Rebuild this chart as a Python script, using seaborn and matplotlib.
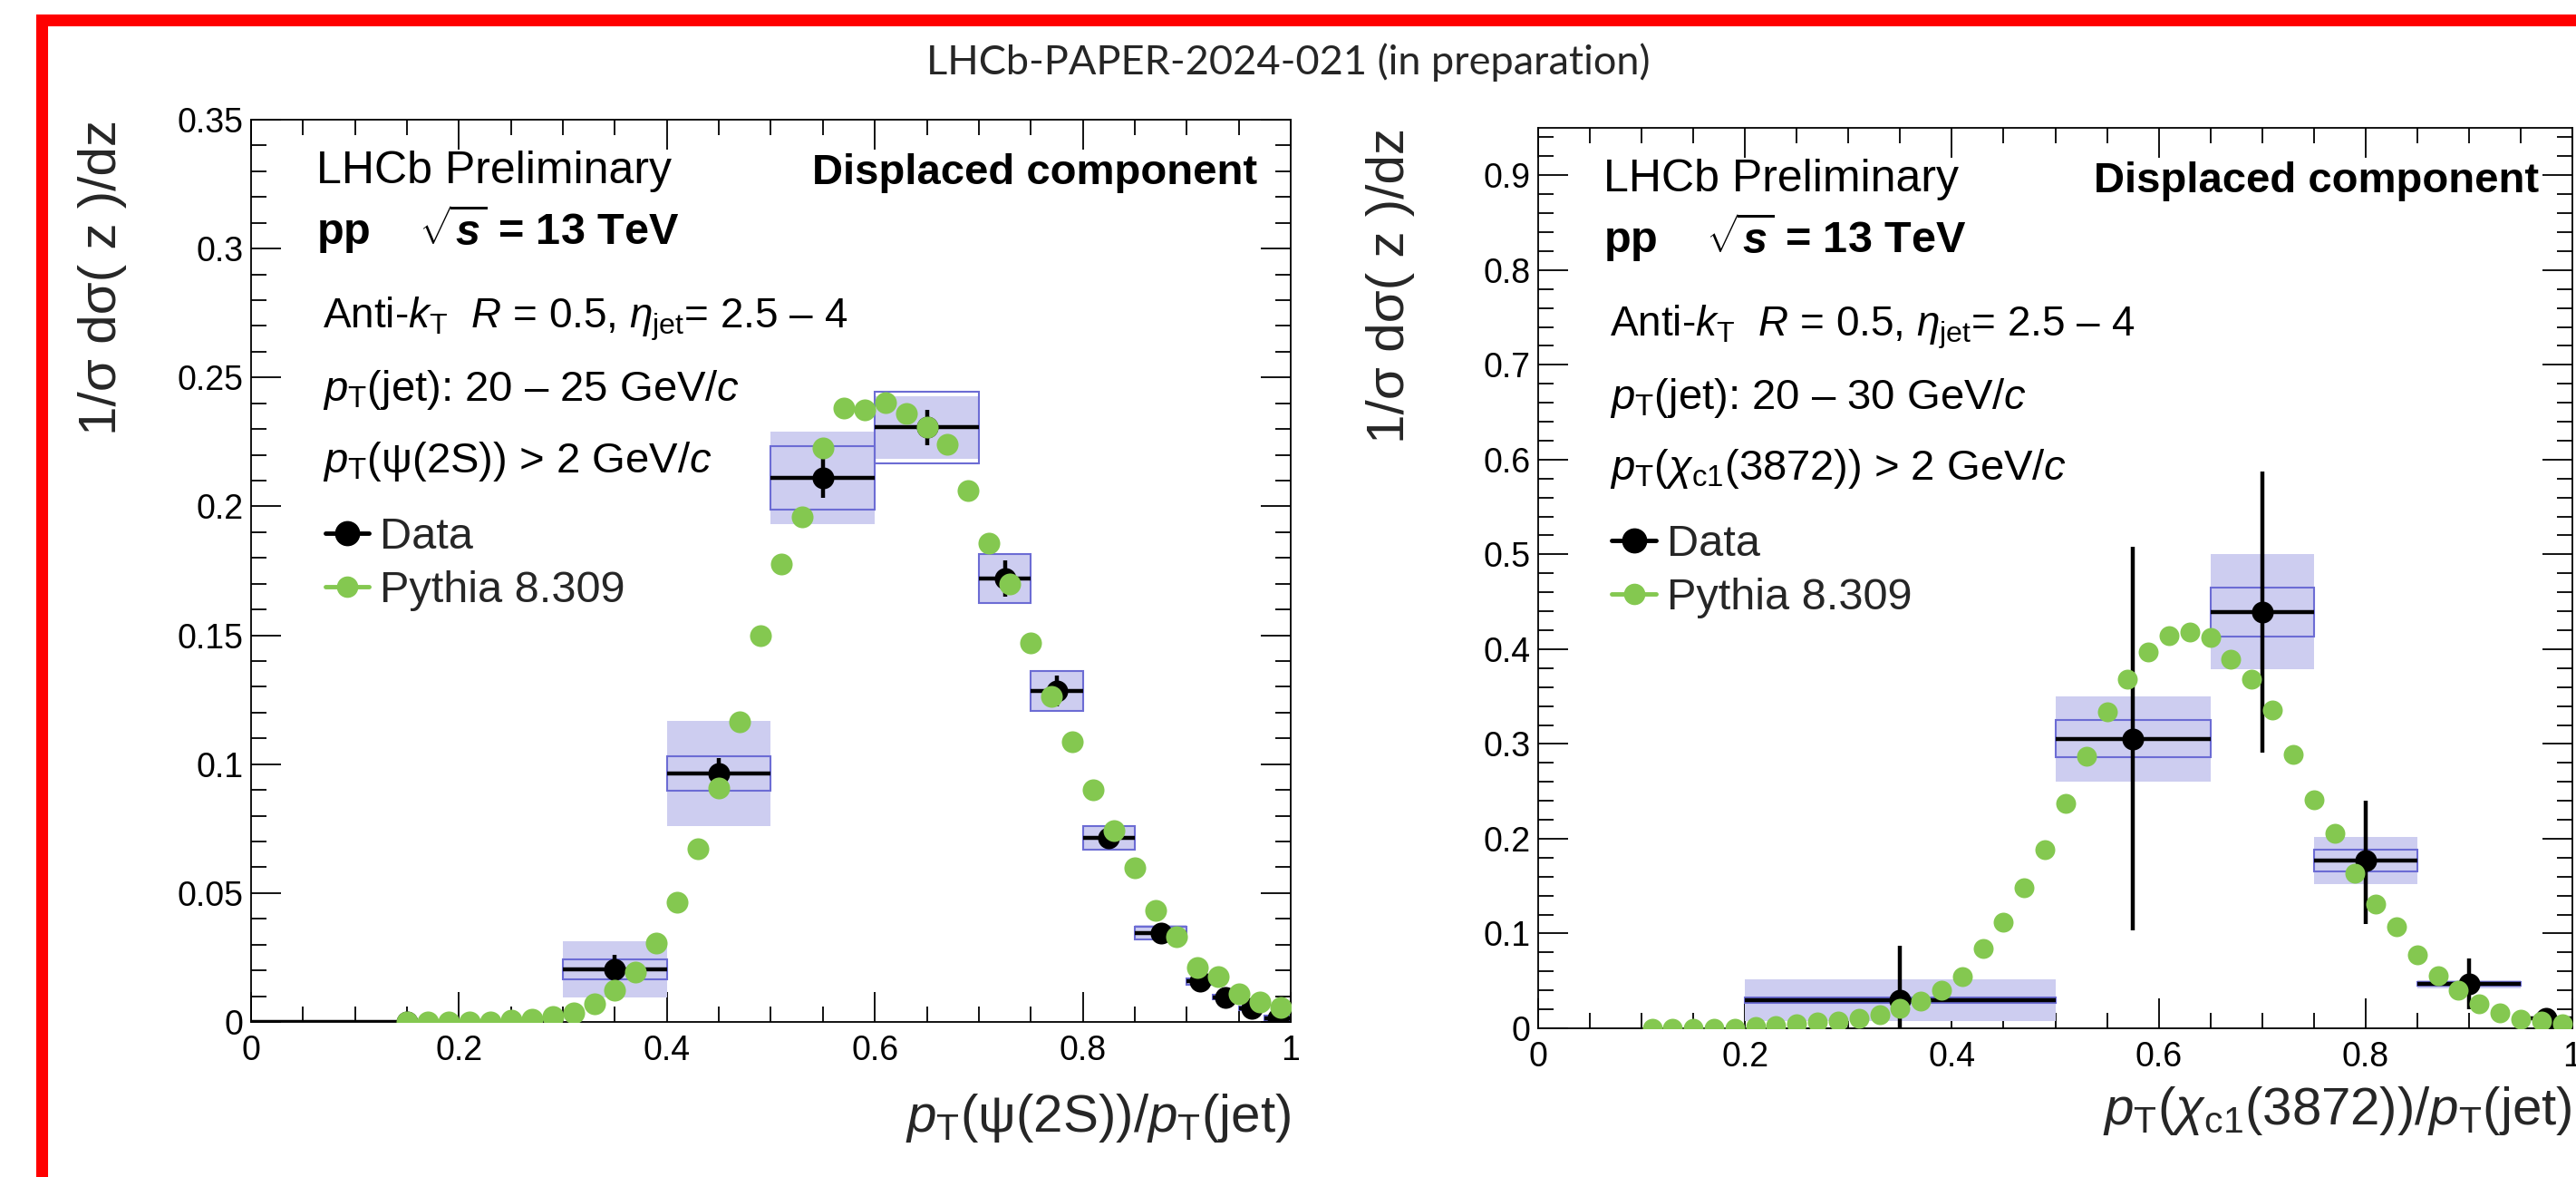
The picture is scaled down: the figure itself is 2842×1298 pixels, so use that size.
import numpy as np
import matplotlib
matplotlib.use('Agg')
import matplotlib.pyplot as plt
import seaborn as sns
from matplotlib.ticker import MultipleLocator, FuncFormatter
from matplotlib.patches import Rectangle
from matplotlib.lines import Line2D

# ---- data: psi(2S) panel (left) ----
psi_lo = [0.0, 0.3, 0.4, 0.5, 0.6, 0.7, 0.75, 0.8, 0.85, 0.9, 0.925, 0.95, 0.975]
psi_hi = [0.3, 0.4, 0.5, 0.6, 0.7, 0.75, 0.8, 0.85, 0.9, 0.925, 0.95, 0.975, 1.0]
psi_val = [0.0, 0.0204, 0.0964, 0.211, 0.2306, 0.172, 0.1284, 0.0714, 0.0345, 0.0157, 0.0096, 0.0052, 0.0015]
psi_stat_dn = [0.0, 0.0055, 0.0058, 0.0078, 0.007, 0.007, 0.006, 0.0025, 0.0015, 0.0015, 0.001, 0.001, 0.001]
psi_stat_up = [0.0, 0.0055, 0.0058, 0.0078, 0.007, 0.007, 0.006, 0.0025, 0.0015, 0.0015, 0.001, 0.001, 0.001]
psi_band = [0.0, 0.011, 0.0204, 0.018, 0.012, 0.0095, 0.0078, 0.0049, 0.003, 0.0015, 0.001, 0.001, 0.001]
psi_inner = [0.0, 0.0037, 0.0068, 0.0122, 0.0138, 0.0095, 0.0078, 0.0045, 0.0025, 0.0012, 0.0008, 0.0008, 0.0008]

psi_mc_x = [0.15, 0.17, 0.19, 0.21, 0.23, 0.25, 0.27, 0.29, 0.31, 0.33, 0.35, 0.37, 0.39, 0.41, 0.43,
            0.45, 0.47, 0.49, 0.51, 0.53, 0.55, 0.57, 0.59, 0.61, 0.63, 0.65, 0.67, 0.69, 0.71, 0.73,
            0.75, 0.77, 0.79, 0.81, 0.83, 0.85, 0.87, 0.89, 0.91, 0.93, 0.95, 0.97, 0.99]
psi_mc_y = [0.0, 0.0, 0.0, 0.0, 0.0, 0.0006, 0.001, 0.002, 0.0035, 0.007, 0.0122, 0.0192, 0.0306, 0.0463, 0.0673,
            0.0909, 0.1165, 0.1497, 0.1776, 0.196, 0.2228, 0.2382, 0.2373, 0.2402, 0.2359, 0.2306, 0.2239, 0.2062, 0.1858, 0.1698,
            0.147, 0.1264, 0.1086, 0.09, 0.0743, 0.0597, 0.0434, 0.0329, 0.021, 0.0175, 0.0108, 0.0079, 0.0058]

# ---- data: chi_c1(3872) panel (right) ----
chi_lo = [0.2, 0.5, 0.65, 0.75, 0.85, 0.95]
chi_hi = [0.5, 0.65, 0.75, 0.85, 0.95, 1.0]
chi_val = [0.030, 0.3056, 0.4394, 0.1766, 0.0467, 0.0108]
chi_stat_dn = [0.030, 0.2026, 0.149, 0.0666, 0.027, 0.004]
chi_stat_up = [0.057, 0.202, 0.148, 0.064, 0.027, 0.004]
chi_band = [0.022, 0.045, 0.0605, 0.0248, 0.0043, 0.002]
chi_inner = [0.003, 0.0195, 0.026, 0.0115, 0.002, 0.001]

chi_mc_x = [0.11, 0.13, 0.15, 0.17, 0.19, 0.21, 0.23, 0.25, 0.27, 0.29, 0.31, 0.33, 0.35, 0.37, 0.39,
            0.41, 0.43, 0.45, 0.47, 0.49, 0.51, 0.53, 0.55, 0.57, 0.59, 0.61, 0.63, 0.65, 0.67, 0.69,
            0.71, 0.73, 0.75, 0.77, 0.79, 0.81, 0.83, 0.85, 0.87, 0.89, 0.91, 0.93, 0.95, 0.97, 0.99]
chi_mc_y = [0.0, 0.0, 0.0, 0.0, 0.0, 0.0016, 0.003, 0.0048, 0.0063, 0.0079, 0.011, 0.014, 0.021, 0.029, 0.040,
            0.055, 0.084, 0.112, 0.148, 0.188, 0.2375, 0.2874, 0.334, 0.368, 0.397, 0.414, 0.418, 0.412, 0.389, 0.368,
            0.336, 0.289, 0.2415, 0.206, 0.164, 0.1306, 0.107, 0.0776, 0.0554, 0.040, 0.026, 0.0158, 0.0095, 0.0072, 0.0045]

GREEN = '#84c850'
BOX_FILL = '#cdcdf0'
BOX_EDGE = '#6c6cd4'

sns.set_theme(style='ticks')
plt.rcParams['font.family'] = ['Liberation Sans', 'DejaVu Sans']
plt.rcParams['mathtext.fontset'] = 'custom'
plt.rcParams['mathtext.rm'] = 'Liberation Sans'
plt.rcParams['mathtext.it'] = 'Liberation Sans:italic'
plt.rcParams['mathtext.bf'] = 'Liberation Sans:bold:italic'
plt.rcParams['mathtext.sf'] = 'Liberation Sans'


def draw_panel(ax, lo, hi, val, sdn, sup, band, inner, mc_x, mc_y, data_s, mc_s):
    lo, hi, val = np.array(lo), np.array(hi), np.array(val)
    band, inner = np.array(band), np.array(inner)
    mid = (lo + hi) / 2
    ax.bar(lo, 2 * band, bottom=val - band, width=hi - lo, align='edge',
           color=BOX_FILL, linewidth=0, zorder=1)
    ax.bar(lo, 2 * inner, bottom=val - inner, width=hi - lo, align='edge',
           fill=False, edgecolor=BOX_EDGE, linewidth=1.5, zorder=2)
    ax.hlines(val, lo, hi, color='black', linewidth=3.2, zorder=3)
    ax.vlines(mid, val - np.array(sdn), val + np.array(sup), color='black', linewidth=3.2, zorder=3)
    sns.scatterplot(x=mid, y=val, ax=ax, color='black', s=data_s, linewidth=0, zorder=4)
    sns.scatterplot(x=mc_x, y=mc_y, ax=ax, color=GREEN, s=mc_s, linewidth=0, zorder=5)


def style_axes(ax, ymax, ymaj, ymin):
    ax.set_xlim(0, 1)
    ax.set_ylim(0, ymax)
    ax.xaxis.set_major_locator(MultipleLocator(0.2))
    ax.xaxis.set_minor_locator(MultipleLocator(0.05))
    ax.yaxis.set_major_locator(MultipleLocator(ymaj))
    ax.yaxis.set_minor_locator(MultipleLocator(ymin))
    fmt = FuncFormatter(lambda v, p: f'{v:g}')
    ax.xaxis.set_major_formatter(fmt)
    ax.yaxis.set_major_formatter(fmt)
    ax.tick_params(which='both', direction='in', top=True, right=True, width=1.3,
                   labelsize=27, colors='black')
    ax.tick_params(which='major', length=24)
    ax.tick_params(which='minor', length=12)
    ax.tick_params(axis='x', pad=10)
    ax.tick_params(axis='y', pad=6)
    for s in ax.spines.values():
        s.set_linewidth(1.3)
        s.set_color('black')
    ax.set_xlabel('')
    ax.set_ylabel('')


def add_text(ax, jet_txt, had_txt, xlabel, xlabel_y):
    kw = dict(transform=ax.transAxes, va='center', color='black')
    ax.text(0.063, 0.943, 'LHCb Preliminary', ha='left', fontsize=36, **kw)
    ax.text(0.063, 0.879, r'pp    $\sqrt{\mathbf{s}}$ = 13 TeV', ha='left', fontsize=35,
            fontweight='bold', **kw)
    ax.text(0.968, 0.941, 'Displaced component', ha='right', fontsize=34,
            fontweight='bold', **kw)
    ax.text(0.069, 0.779, r'Anti-$k_{\rm T}$  $R$ = 0.5, $\eta_{\rm jet}$= 2.5 – 4',
            ha='left', fontsize=33, **kw)
    ax.text(0.069, 0.700, jet_txt, ha='left', fontsize=34, **kw)
    ax.text(0.069, 0.621, had_txt, ha='left', fontsize=34, **kw)
    handles = [Line2D([], [], color='black', marker='o', markersize=19, linewidth=3.5),
               Line2D([], [], color=GREEN, marker='o', markersize=16, linewidth=3.5)]
    ax.legend(handles, ['Data', 'Pythia 8.309'], loc='center left',
              bbox_to_anchor=(0.0713, 0.5075), frameon=False, fontsize=35,
              handlelength=1.0, handletextpad=0.24, labelspacing=0.3,
              borderpad=0, borderaxespad=0, numpoints=1)
    ax.text(1.0, xlabel_y, xlabel, ha='right', va='center', fontsize=42,
            transform=ax.transAxes)
    ax.text(-0.143, 1.0, '1/σ dσ( z )/dz', rotation=90, ha='center', va='top',
            fontsize=42, transform=ax.transAxes)


fig = plt.figure(figsize=(28.42, 12.98), dpi=100)
ax1 = fig.add_axes([277 / 2842, 171 / 1298, 1147 / 2842, 995 / 1298])
ax2 = fig.add_axes([1697 / 2842, 164 / 1298, 1141 / 2842, 993 / 1298])

draw_panel(ax1, psi_lo, psi_hi, psi_val, psi_stat_dn, psi_stat_up, psi_band, psi_inner,
           psi_mc_x, psi_mc_y, 300, 300)
style_axes(ax1, 0.35, 0.05, 0.01)
add_text(ax1, r'$p_{\rm T}$(jet): 20 – 25 GeV/$c$', r'$p_{\rm T}$(ψ(2S)) > 2 GeV/$c$',
         r'$p_{\rm T}$(ψ(2S))/$p_{\rm T}$(jet)', -0.1065)

draw_panel(ax2, chi_lo, chi_hi, chi_val, chi_stat_dn, chi_stat_up, chi_band, chi_inner,
           chi_mc_x, chi_mc_y, 300, 250)
style_axes(ax2, 0.95, 0.1, 0.02)
add_text(ax2, r'$p_{\rm T}$(jet): 20 – 30 GeV/$c$', r'$p_{\rm T}$($\chi_{\rm c1}$(3872)) > 2 GeV/$c$',
         r'$p_{\rm T}$($\chi_{\rm c1}$(3872))/$p_{\rm T}$(jet)', -0.092)

fig.text(0.5, 1 - 69 / 1298, 'LHCb-PAPER-2024-021 (in preparation)', ha='center', va='center',
         fontsize=32.5, family=['Lato', 'DejaVu Sans'])

frame = Rectangle((45.5 / 2842, -4.5 / 1298), 1.1, 1281 / 1298, transform=fig.transFigure,
                  fill=False, edgecolor='#ff0000', linewidth=9.4, zorder=10)
fig.add_artist(frame)

fig.savefig('out.png', dpi=100)
